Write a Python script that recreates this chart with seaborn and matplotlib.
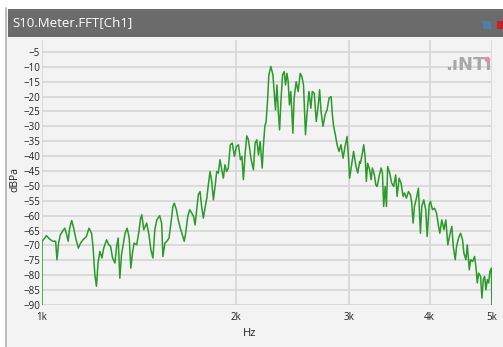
import numpy as np
import pandas as pd
import seaborn as sns
import matplotlib.pyplot as plt
from matplotlib.patches import Rectangle
from matplotlib.lines import Line2D
from matplotlib.ticker import NullLocator

# spectrum (Hz, dBPa)
freq_hz = [
    1000, 1000, 1010, 1016, 1028, 1040, 1050, 1055, 1061, 1068, 1078, 1085, 1091, 1098,
    1104, 1112, 1120, 1128, 1139, 1148, 1158, 1172, 1183, 1194, 1200, 1208, 1215, 1222,
    1230, 1239, 1247, 1260, 1270, 1278, 1287, 1298, 1306, 1313, 1321, 1329, 1337, 1346,
    1356, 1366, 1374, 1383, 1390, 1403, 1413, 1423, 1429, 1439, 1454, 1466, 1476, 1487,
    1497, 1508, 1523, 1534, 1541, 1552, 1563, 1575, 1586, 1597, 1605, 1617, 1628, 1640,
    1652, 1663, 1672, 1684, 1696, 1708, 1720, 1729, 1739, 1749, 1760, 1770, 1781, 1791,
    1803, 1813, 1824, 1835, 1846, 1857, 1868, 1879, 1890, 1902, 1913, 1924, 1936, 1947,
    1961, 1975, 1990, 2004, 2019, 2033, 2044, 2055, 2068, 2080, 2092, 2113, 2130, 2143,
    2156, 2169, 2182, 2198, 2208, 2219, 2229, 2240, 2251, 2267, 2284, 2294, 2305, 2317,
    2328, 2339, 2350, 2364, 2378, 2389, 2401, 2412, 2423, 2435, 2453, 2464, 2482, 2500,
    2518, 2533, 2548, 2566, 2579, 2598, 2616, 2629, 2648, 2667, 2686, 2699, 2713, 2732,
    2752, 2772, 2792, 2812, 2825, 2838, 2855, 2873, 2893, 2914, 2935, 2956, 2977, 2991,
    3005, 3027, 3048, 3071, 3093, 3115, 3123, 3145, 3160, 3176, 3190, 3205, 3228, 3245,
    3260, 3283, 3299, 3315, 3339, 3363, 3379, 3394, 3412, 3428, 3443, 3468, 3493, 3518,
    3543, 3561, 3587, 3612, 3638, 3656, 3682, 3709, 3735, 3752, 3771, 3789, 3816, 3843,
    3871, 3889, 3917, 3945, 3965, 3994, 4012, 4041, 4071, 4100, 4130, 4149, 4178, 4209,
    4239, 4269, 4300, 4331, 4353, 4384, 4405, 4436, 4468, 4500, 4522, 4554, 4577, 4610,
    4631, 4665, 4698, 4720, 4744, 4766, 4800, 4823, 4847, 4870, 4892, 4917, 4940, 4963,
    4989, 4995, 5000,
]
level_dbpa = [
    -92.0, -68.6, -67.5, -66.7, -67.9, -68.6, -68.6, -74.8, -69.2, -66.4, -65.0, -64.2, -65.9, -68.6,
    -64.2, -61.6, -64.2, -67.5, -70.9, -69.2, -68.1, -67.0, -64.2, -65.9, -70.3, -79.8, -83.7, -75.9,
    -72.0, -74.2, -70.9, -68.1, -69.8, -70.3, -74.2, -75.9, -70.3, -67.5, -81.0, -73.1, -69.8, -65.9,
    -64.2, -67.5, -77.6, -72.0, -69.2, -69.8, -65.9, -60.8, -59.7, -64.7, -62.5, -66.4, -71.4, -74.2,
    -64.7, -61.4, -60.0, -62.5, -73.7, -69.2, -68.6, -67.5, -62.5, -56.9, -55.8, -58.0, -61.4, -64.2,
    -66.4, -68.6, -65.8, -60.3, -58.0, -59.1, -60.3, -63.1, -58.0, -53.0, -51.9, -56.9, -60.8, -57.5,
    -54.1, -49.6, -45.2, -48.5, -54.7, -50.2, -45.2, -45.7, -41.2, -44.6, -47.4, -42.9, -45.2, -44.0,
    -36.2, -35.6, -40.1, -36.8, -36.2, -41.2, -40.1, -47.9, -39.0, -33.2, -34.5, -41.2, -44.6, -35.6,
    -34.5, -39.6, -35.1, -44.0, -36.2, -30.0, -28.4, -21.7, -12.7, -9.9, -12.7, -18.3, -24.5, -16.1,
    -25.0, -31.2, -21.7, -12.7, -11.6, -16.1, -12.2, -15.0, -22.8, -18.3, -32.3, -20.5, -15.0, -18.3,
    -12.2, -13.3, -16.1, -32.8, -26.1, -18.3, -23.9, -18.3, -18.9, -28.4, -22.8, -17.7, -25.0, -30.0,
    -26.1, -24.5, -20.5, -20.0, -26.1, -30.0, -32.8, -36.2, -38.4, -36.2, -40.7, -36.8, -33.4, -39.6,
    -47.4, -42.9, -38.4, -42.9, -45.7, -41.8, -42.4, -39.0, -36.2, -40.1, -48.5, -42.4, -44.6, -47.9,
    -44.0, -46.3, -49.6, -50.2, -46.8, -44.0, -45.7, -56.9, -50.2, -56.9, -43.5, -45.7, -49.1, -50.2,
    -46.3, -53.5, -47.4, -49.1, -53.5, -52.4, -54.1, -51.9, -53.0, -55.8, -62.5, -56.9, -54.1, -50.8,
    -65.9, -56.9, -54.7, -58.0, -67.0, -56.3, -55.2, -58.0, -57.5, -59.1, -63.6, -65.9, -61.4, -64.7,
    -61.4, -69.8, -66.4, -63.6, -70.3, -74.8, -70.3, -67.5, -65.9, -68.1, -72.6, -74.8, -69.8, -78.2,
    -74.8, -75.4, -73.7, -77.0, -82.6, -79.3, -80.4, -87.7, -81.5, -80.4, -84.9, -81.5, -82.6, -78.7,
    -77.6, -87.1, -92.0,
]

y_ticks = [-90, -85, -80, -75, -70, -65, -60, -55, -50, -45, -40, -35, -30, -25, -20, -15, -10, -5]
x_ticks = [1000, 2000, 3000, 4000, 5000]
x_tick_labels = ["1k", "2k", "3k", "4k", "5k"]

sns.set_theme(style="whitegrid")
plt.rcParams['font.family'] = ['Open Sans', 'DejaVu Sans']

W, H = 503, 347
fig = plt.figure(figsize=(W / 100, H / 100), dpi=100, facecolor="#f3f3f3")


def fx(x):
    return x / W


def fy(y):
    return 1 - y / H


# window chrome
fig.add_artist(Rectangle((0, fy(9)), 1, 9 / H, transform=fig.transFigure,
                         facecolor="white", edgecolor="none"))
fig.add_artist(Rectangle((0, 0), fx(5), 1, transform=fig.transFigure,
                         facecolor="white", edgecolor="none"))
fig.add_artist(Line2D([fx(6), fx(6)], [0, fy(8)], transform=fig.transFigure,
                      color="#b5b5b5", linewidth=1.2))
fig.add_artist(Rectangle((fx(7.5), fy(37)), 1, 28 / H, transform=fig.transFigure,
                         facecolor="#6b6b6b", edgecolor="none"))
fig.text(fx(12), fy(23), "S10.Meter.FFT[Ch1]", color="white", fontsize=9.5,
         va="center", ha="left")
fig.add_artist(Rectangle((fx(483), fy(29)), 8 / W, 8 / H, transform=fig.transFigure,
                         facecolor="#4f7fa8", edgecolor="none"))
fig.add_artist(Rectangle((fx(497), fy(29)), 6 / W, 8 / H, transform=fig.transFigure,
                         facecolor="#c8202a", edgecolor="none"))

ax = fig.add_axes([fx(42), fy(305), 450 / W, 265 / H])
ax.set_facecolor("#f3f3f3")

df = pd.DataFrame({"Hz": freq_hz, "dBPa": level_dbpa})
sns.lineplot(data=df, x="Hz", y="dBPa", sort=False, estimator=None,
             color="#2a9a2a", linewidth=1.1, ax=ax)

ax.set_xscale("log")
ax.set_xlim(1000, 5000)
ax.set_ylim(-90, -1)
ax.set_xticks(x_ticks)
ax.set_xticklabels(x_tick_labels)
ax.xaxis.set_minor_locator(NullLocator())
ax.set_yticks(y_ticks)
ax.grid(True, color="#d8d8d8", linewidth=1.3)
for s in ax.spines.values():
    s.set_visible(False)
ax.tick_params(length=0, labelsize=7, colors="#222222")
ax.tick_params(axis="y", pad=1.5)
ax.tick_params(axis="x", pad=5)

ax.set_xlabel("Hz", fontsize=8, color="#222222")
ax.set_ylabel("dBPa", fontsize=7.5, color="#222222")
ax.xaxis.set_label_coords((250 - 42) / 450, -(328 - 305) / 265)
ax.yaxis.set_label_coords(-0.047, 0.472)

# NTi logo
ax.text(1.0, (305 - 70) / 265, ".ıNTı", transform=ax.transAxes, ha="right",
        va="baseline", fontsize=13, fontweight="bold", color="#a8a8a8",
        family="DejaVu Sans")
fig.add_artist(Line2D([fx(486.5)], [fy(59)], transform=fig.transFigure, marker="o",
                      markersize=3, color="#e88aa8", linestyle="none"))

plt.savefig("out.png", dpi=100, facecolor=fig.get_facecolor())
